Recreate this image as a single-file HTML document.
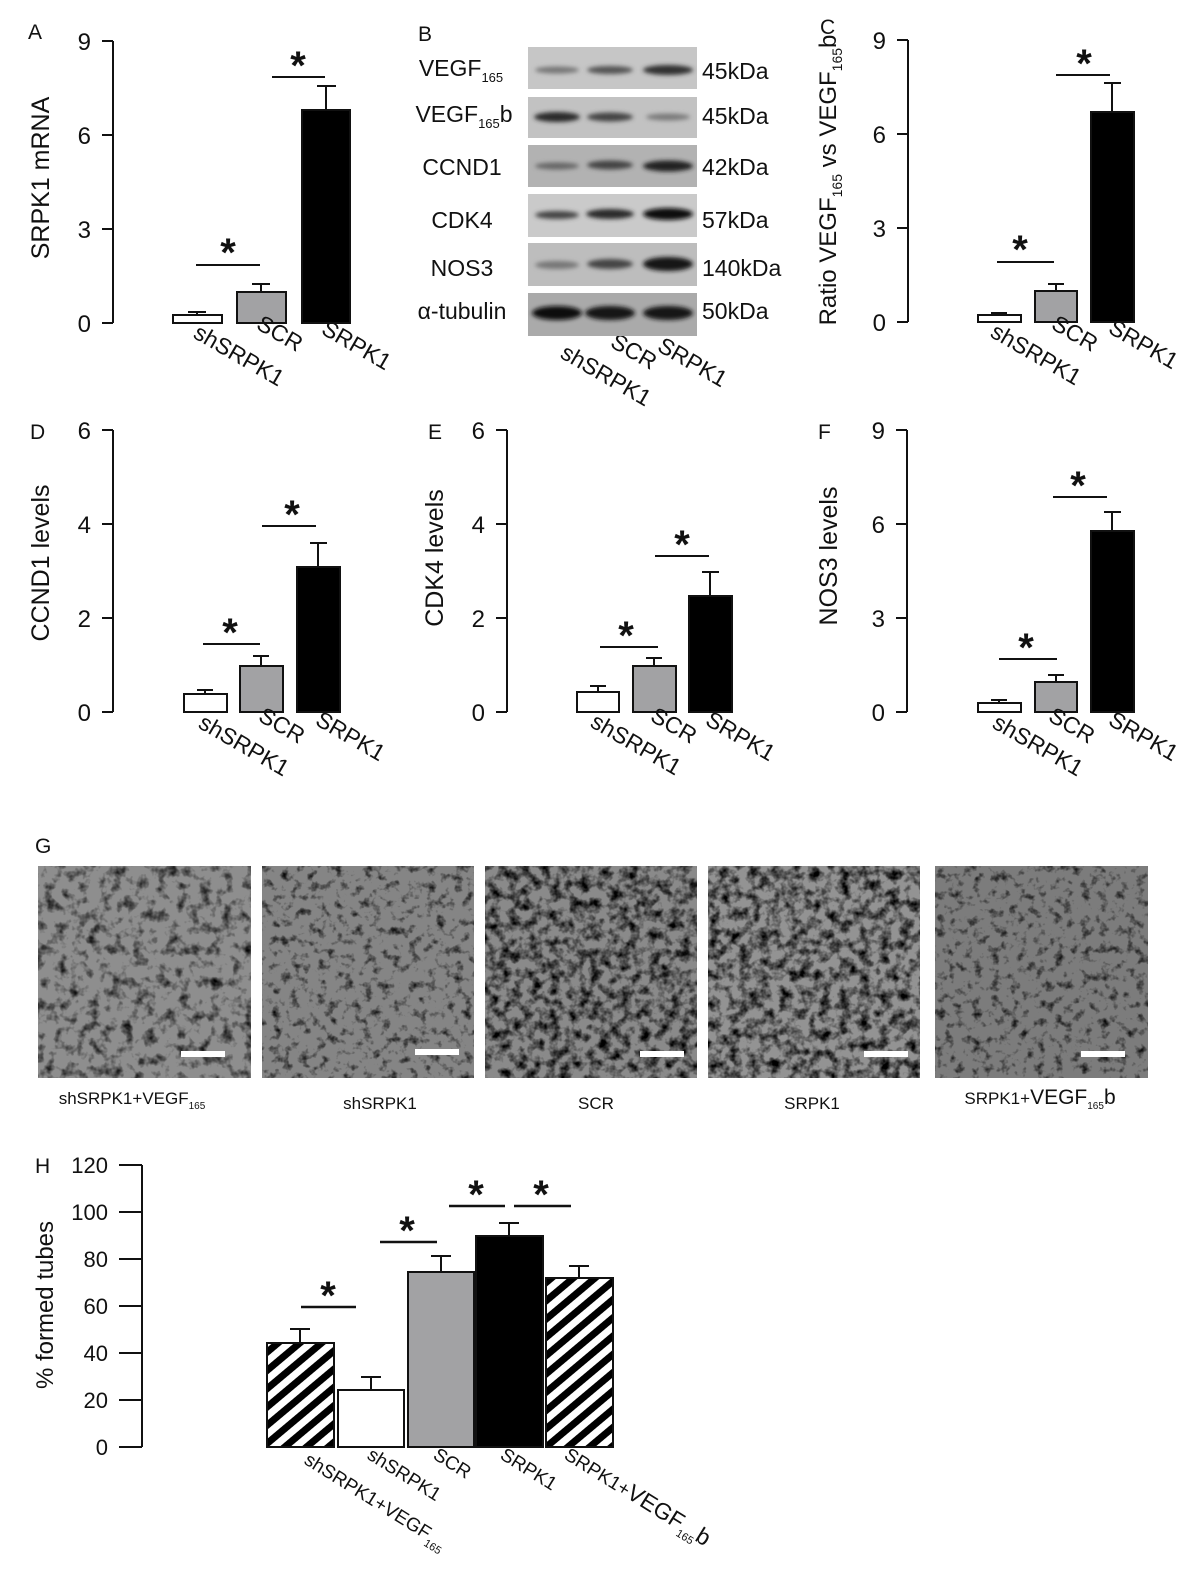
<!DOCTYPE html>
<html><head><meta charset="utf-8"><style>
html,body{margin:0;padding:0;background:#fff}
svg{display:block}
text{font-family:"Liberation Sans",Arial,sans-serif;fill:#111}
</style></head><body>
<svg width="1200" height="1572" viewBox="0 0 1200 1572" xmlns="http://www.w3.org/2000/svg">
<defs>
<pattern id="hatch" patternUnits="userSpaceOnUse" width="14" height="14" patternTransform="rotate(-40)">
<rect width="14" height="14" fill="#fff"/><rect width="14" height="7" fill="#000"/>
</pattern>
<filter id="blur"><feGaussianBlur stdDeviation="2.2"/></filter>
<filter id="tex1" x="0" y="0" width="100%" height="100%">
<feTurbulence type="fractalNoise" baseFrequency="0.09" numOctaves="3" seed="3"/>
<feColorMatrix type="matrix" values="0 0 0 0 0  0 0 0 0 0  0 0 0 0 0  2.2 0 0 0 -1.05"/>
</filter>
<filter id="tex2" x="0" y="0" width="100%" height="100%">
<feTurbulence type="fractalNoise" baseFrequency="0.11" numOctaves="3" seed="8"/>
<feColorMatrix type="matrix" values="0 0 0 0 0  0 0 0 0 0  0 0 0 0 0  2.4 0 0 0 -1.25"/>
</filter>
<filter id="tex3" x="0" y="0" width="100%" height="100%">
<feTurbulence type="fractalNoise" baseFrequency="0.1" numOctaves="3" seed="14"/>
<feColorMatrix type="matrix" values="0 0 0 0 0  0 0 0 0 0  0 0 0 0 0  2.4 0 0 0 -0.95"/>
</filter>
</defs>

<g stroke="#111" stroke-width="2" fill="none">
<path d="M113 41V323M102 41H113M102 135H113M102 229H113M102 323H113"/>
<path d="M908 40V322M897 40H908M897 134H908M897 228H908M897 322H908"/>
<path d="M113 430V712M102 430H113M102 524H113M102 618H113M102 712H113"/>
<path d="M507 430V712M496 430H507M496 524H507M496 618H507M496 712H507"/>
<path d="M907 430V712M896 430H907M896 524H907M896 618H907M896 712H907"/>
<path d="M142 1165V1447M119 1165H142M119 1212H142M119 1259H142M119 1306H142M119 1353H142M119 1400H142M119 1447H142"/>
</g>

<g font-size="24" text-anchor="end">
<text x="91" y="50">9</text><text x="91" y="144">6</text><text x="91" y="238">3</text><text x="91" y="332">0</text>
<text x="886" y="49">9</text><text x="886" y="143">6</text><text x="886" y="237">3</text><text x="886" y="331">0</text>
<text x="91" y="439">6</text><text x="91" y="533">4</text><text x="91" y="627">2</text><text x="91" y="721">0</text>
<text x="485" y="439">6</text><text x="485" y="533">4</text><text x="485" y="627">2</text><text x="485" y="721">0</text>
<text x="885" y="439">9</text><text x="885" y="533">6</text><text x="885" y="627">3</text><text x="885" y="721">0</text>
</g>
<g font-size="22" text-anchor="end">
<text x="108" y="1173">120</text><text x="108" y="1220">100</text><text x="108" y="1267">80</text><text x="108" y="1314">60</text><text x="108" y="1361">40</text><text x="108" y="1408">20</text><text x="108" y="1455">0</text>
</g>

<g font-size="21">
<text x="28" y="39">A</text><text x="418" y="41">B</text><text x="820" y="34">C</text>
<text x="30" y="439">D</text><text x="428" y="439">E</text><text x="818" y="439">F</text>
<text x="35" y="853">G</text><text x="35" y="1173">H</text>
</g>

<g font-size="25" text-anchor="middle">
<text transform="translate(49,178) rotate(-90)">SRPK1 mRNA</text>
<text transform="translate(836,180) rotate(-90)" font-size="24">Ratio VEGF<tspan font-size="14" dy="6">165</tspan><tspan dy="-6"> vs VEGF</tspan><tspan font-size="14" dy="6">165</tspan><tspan dy="-6">b</tspan></text>
<text transform="translate(49,563) rotate(-90)">CCND1 levels</text>
<text transform="translate(443,558) rotate(-90)">CDK4 levels</text>
<text transform="translate(837,556) rotate(-90)">NOS3 levels</text>
<text transform="translate(53,1305) rotate(-90)" font-size="24">% formed tubes</text>
</g>

<g stroke="#111" stroke-width="2">
<rect x="173" y="315" width="49" height="8" fill="#fff"/>
<rect x="237" y="292" width="49" height="31" fill="#a2a2a4"/>
<rect x="302" y="110" width="48" height="213" fill="#000"/>
<path d="M197 315V312M188 312H206M261 292V284M252 284H270M326 110V86M317 86H336" fill="none"/>
<path d="M196 265H260M272 77H325" fill="none"/>
<rect x="978" y="315" width="43" height="7" fill="#fff"/>
<rect x="1035" y="291" width="42" height="31" fill="#a2a2a4"/>
<rect x="1091" y="112" width="43" height="210" fill="#000"/>
<path d="M999 315V313M991 313H1007M1056 291V284M1048 284H1064M1112 112V83M1104 83H1121" fill="none"/>
<path d="M997 262H1054M1056 75H1110" fill="none"/>
<rect x="184" y="694" width="43" height="18" fill="#fff"/>
<rect x="240" y="666" width="43" height="46" fill="#a2a2a4"/>
<rect x="297" y="567" width="43" height="145" fill="#000"/>
<path d="M205 694V690M197 690H213M261 666V656M253 656H269M318 567V543M310 543H327" fill="none"/>
<path d="M203 644H260M262 526H316" fill="none"/>
<rect x="577" y="692" width="42" height="20" fill="#fff"/>
<rect x="633" y="666" width="43" height="46" fill="#a2a2a4"/>
<rect x="689" y="596" width="43" height="116" fill="#000"/>
<path d="M598 692V686M590 686H606M654 666V658M646 658H662M710 596V572M702 572H719" fill="none"/>
<path d="M600 647H658M655 556H709" fill="none"/>
<rect x="978" y="703" width="43" height="9" fill="#fff"/>
<rect x="1035" y="682" width="42" height="30" fill="#a2a2a4"/>
<rect x="1091" y="531" width="43" height="181" fill="#000"/>
<path d="M999 703V700M991 700H1007M1056 682V675M1048 675H1064M1112 531V512M1104 512H1121" fill="none"/>
<path d="M999 659H1057M1053 497H1107" fill="none"/>
<rect x="267" y="1343" width="67" height="104" fill="url(#hatch)"/>
<rect x="338" y="1390" width="66" height="57" fill="#fff"/>
<rect x="408" y="1272" width="66" height="175" fill="#a2a2a4"/>
<rect x="476" y="1236" width="67" height="211" fill="#000"/>
<rect x="546" y="1278" width="67" height="169" fill="url(#hatch)"/>
<path d="M300 1343V1329M290 1329H310M371 1390V1377M361 1377H381M441 1272V1256M431 1256H451M509 1236V1223M499 1223H519M579 1278V1266M569 1266H589" fill="none"/>
<path d="M301 1307H356M380 1242H437M449 1206H505M514 1206H571" fill="none" stroke-width="2.5"/>
</g>

<g font-size="40" font-weight="bold" text-anchor="middle">
<text x="228" y="266">*</text><text x="298" y="79">*</text>
<text x="1020" y="263">*</text><text x="1084" y="77">*</text>
<text x="230" y="646">*</text><text x="292" y="528">*</text>
<text x="626" y="649">*</text><text x="682" y="558">*</text>
<text x="1026" y="661">*</text><text x="1078" y="499">*</text>
<text x="328" y="1309">*</text><text x="407" y="1244">*</text><text x="476" y="1208">*</text><text x="541" y="1208">*</text>
</g>

<g font-size="23">
<text transform="translate(192,337) rotate(30)">shSRPK1</text>
<text transform="translate(255,328) rotate(30)">SCR</text>
<text transform="translate(320,333) rotate(30)">SRPK1</text>
<text transform="translate(989,336) rotate(30)">shSRPK1</text>
<text transform="translate(1050,328) rotate(30)">SCR</text>
<text transform="translate(1107,332) rotate(30)">SRPK1</text>
<text transform="translate(197,727) rotate(30)">shSRPK1</text>
<text transform="translate(257,720) rotate(30)">SCR</text>
<text transform="translate(314,724) rotate(30)">SRPK1</text>
<text transform="translate(589,726) rotate(30)">shSRPK1</text>
<text transform="translate(649,720) rotate(30)">SCR</text>
<text transform="translate(704,724) rotate(30)">SRPK1</text>
<text transform="translate(991,727) rotate(30)">shSRPK1</text>
<text transform="translate(1047,720) rotate(30)">SCR</text>
<text transform="translate(1107,724) rotate(30)">SRPK1</text>
<text transform="translate(559,357) rotate(30)">shSRPK1</text>
<text transform="translate(609,346) rotate(30)">SCR</text>
<text transform="translate(656,350) rotate(30)">SRPK1</text>
</g>
<g font-size="19">
<text transform="translate(303,1463) rotate(32)">shSRPK1+VEGF<tspan font-size="11" dy="6">165</tspan></text>
<text transform="translate(366,1458) rotate(32)">shSRPK1</text>
<text transform="translate(432,1458) rotate(32)">SCR</text>
<text transform="translate(499,1458) rotate(32)">SRPK1</text>
<text transform="translate(563,1458) rotate(32)">SRPK1+<tspan font-size="23">VEGF</tspan><tspan font-size="11" dy="6">165</tspan><tspan dy="-6" font-size="23">b</tspan></text>
</g>

<g>
<rect x="528" y="47" width="169" height="42" fill="#c6c6c6"/>
<rect x="528" y="97" width="169" height="41" fill="#c2c2c2"/>
<rect x="528" y="145" width="169" height="42" fill="#b2b2b2"/>
<rect x="528" y="194" width="169" height="43" fill="#cacaca"/>
<rect x="528" y="243" width="169" height="43" fill="#bdbdbd"/>
<rect x="528" y="293" width="169" height="43" fill="#aaaaaa"/>
<g filter="url(#blur)">
<ellipse cx="557" cy="70" rx="22" ry="3.5" fill="#777"/><ellipse cx="610" cy="70" rx="23" ry="4" fill="#555"/><ellipse cx="668" cy="70" rx="25" ry="5" fill="#333"/>
<ellipse cx="557" cy="117" rx="23" ry="5" fill="#2a2a2a"/><ellipse cx="610" cy="117" rx="23" ry="4.5" fill="#444"/><ellipse cx="668" cy="117" rx="22" ry="3.5" fill="#7a7a7a"/>
<ellipse cx="557" cy="166" rx="22" ry="3.5" fill="#666"/><ellipse cx="610" cy="165" rx="23" ry="4.5" fill="#444"/><ellipse cx="668" cy="166" rx="25" ry="5.5" fill="#222"/>
<ellipse cx="557" cy="215" rx="22" ry="4" fill="#444"/><ellipse cx="610" cy="214" rx="24" ry="5" fill="#2a2a2a"/><ellipse cx="668" cy="214" rx="25" ry="6" fill="#111"/>
<ellipse cx="557" cy="265" rx="22" ry="4" fill="#777"/><ellipse cx="610" cy="264" rx="23" ry="5" fill="#444"/><ellipse cx="668" cy="264" rx="25" ry="7" fill="#151515"/>
<ellipse cx="557" cy="313" rx="25" ry="7" fill="#111"/><ellipse cx="610" cy="313" rx="25" ry="7" fill="#151515"/><ellipse cx="668" cy="313" rx="25" ry="7" fill="#151515"/>
</g>
</g>
<g font-size="23" text-anchor="middle">
<text x="461" y="76">VEGF<tspan font-size="13" dy="6">165</tspan></text>
<text x="464" y="122">VEGF<tspan font-size="13" dy="6">165</tspan><tspan dy="-6">b</tspan></text>
<text x="462" y="175">CCND1</text>
<text x="462" y="228">CDK4</text>
<text x="462" y="276">NOS3</text>
<text x="462" y="319">α-tubulin</text>
</g>
<g font-size="23">
<text x="702" y="79">45kDa</text><text x="702" y="124">45kDa</text><text x="702" y="175">42kDa</text>
<text x="702" y="228">57kDa</text><text x="702" y="276">140kDa</text><text x="702" y="319">50kDa</text>
</g>

<g>
<rect x="38" y="866" width="213" height="212" fill="#8e8e8e"/>
<rect x="38" y="866" width="213" height="212" fill="#000" filter="url(#tex1)"/>
<rect x="262" y="866" width="212" height="212" fill="#858585"/>
<rect x="262" y="866" width="212" height="212" fill="#000" filter="url(#tex2)"/>
<rect x="485" y="866" width="212" height="212" fill="#8a8a8a"/>
<rect x="485" y="866" width="212" height="212" fill="#000" filter="url(#tex3)"/>
<rect x="708" y="866" width="212" height="212" fill="#939393"/>
<rect x="708" y="866" width="212" height="212" fill="#000" filter="url(#tex3)"/>
<rect x="935" y="866" width="213" height="212" fill="#7c7c7c"/>
<rect x="935" y="866" width="213" height="212" fill="#000" filter="url(#tex2)"/>
<g fill="#fff">
<rect x="181" y="1051" width="44" height="6"/><rect x="415" y="1049" width="44" height="6"/>
<rect x="640" y="1051" width="44" height="6"/><rect x="864" y="1051" width="44" height="6"/>
<rect x="1081" y="1051" width="44" height="6"/>
</g>
</g>
<g font-size="17" text-anchor="middle">
<text x="132" y="1104">shSRPK1+VEGF<tspan font-size="10" dy="5">165</tspan></text>
<text x="380" y="1109">shSRPK1</text>
<text x="596" y="1109">SCR</text>
<text x="812" y="1109">SRPK1</text>
<text x="1040" y="1104">SRPK1+<tspan font-size="21">VEGF</tspan><tspan font-size="10" dy="5">165</tspan><tspan font-size="21" dy="-5">b</tspan></text>
</g>
</svg>
</body></html>
